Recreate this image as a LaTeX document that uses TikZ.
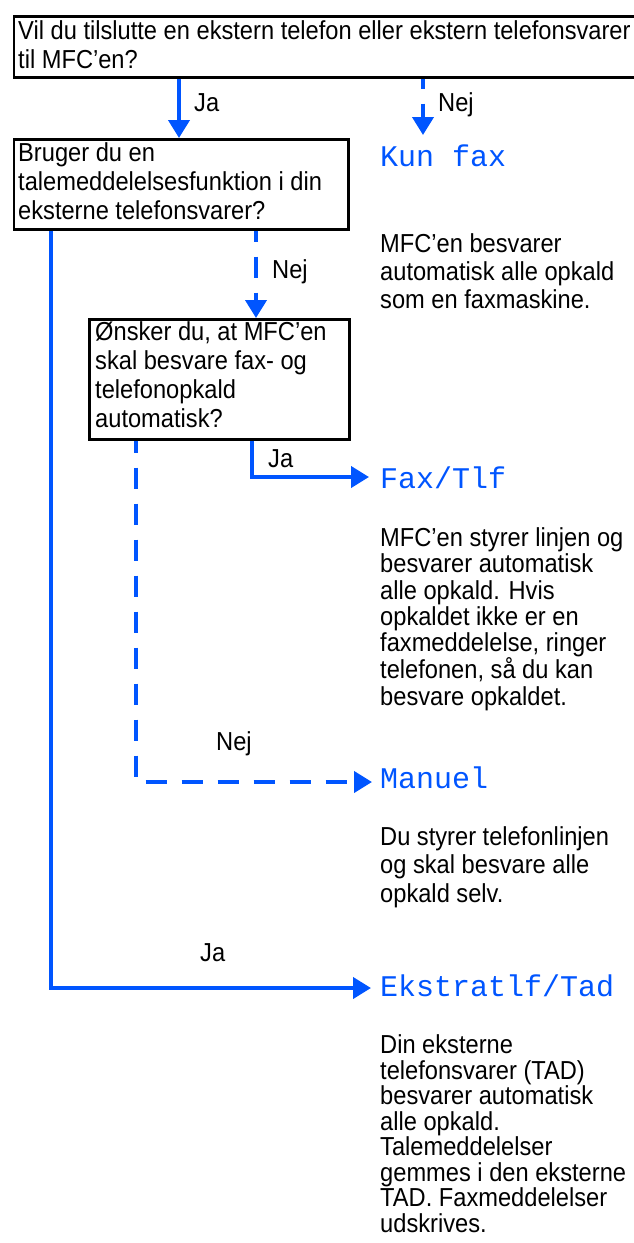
\documentclass[tikz,border=0pt]{standalone}
\usepackage{fontspec}
\setmainfont[FakeStretch=0.91]{Liberation Sans}
\newfontfamily\monofont{Liberation Mono}
\usetikzlibrary{arrows.meta}
\definecolor{mfcblue}{RGB}{0,85,255}
\begin{document}
\begin{tikzpicture}[x=1pt,y=-1pt,
  txt/.style={font=\fontsize{26}{#1}\selectfont, inner sep=0pt, anchor=base west, align=left},
  txt/.default=29,
  mono/.style={font=\monofont\fontsize{30}{30}\selectfont, text=mfcblue, inner sep=0pt, anchor=base west},
  qbox/.style={draw=black, line width=2.5pt, inner sep=0pt, anchor=north west},
  flow/.style={draw=mfcblue, line width=4pt, -{Triangle[length=18pt,width=21pt]}},
  dashline/.style={dash pattern=on 21pt off 15pt}]
\useasboundingbox (0,0) rectangle (633,1243);
\fill[white] (0,0) rectangle (633,1243);
% boxes
\node[qbox, minimum width=628pt, minimum height=61pt] (q1) at (12.5,15) {};
\node[qbox, minimum width=334.5pt, minimum height=90pt] (q2) at (12.5,138) {};
\node[qbox, minimum width=260pt, minimum height=120pt] (q3) at (88,318) {};
% columns and tips
\coordinate (cJa) at (179,0);
\coordinate (cNej) at (423,0);
\coordinate (cL) at (50.5,0);
\coordinate (cN2) at (256,0);
\coordinate (cJ3) at (251.5,0);
\coordinate (cN3) at (136,0);
\coordinate (tKun) at (423,135);
\coordinate (tFax) at (369,477);
\coordinate (tMan) at (372,782);
\coordinate (tEks) at (371,988);
% connectors
\draw[flow] (q1.south -| cJa) -- (q2.north -| cJa);
\draw[flow, dashline, dash phase=11pt] (q1.south -| cNej) -- (tKun);
\draw[flow, dashline, dash phase=10pt] (q2.south -| cN2) -- (q3.north -| cN2);
\draw[flow] (q3.south -| cJ3) |- (tFax);
\draw[flow, dashline, dash phase=9pt] (q3.south -| cN3) |- (tMan);
\draw[flow] (q2.south -| cL) |- (tEks);
% texts (multi-line nodes: base = baseline of last line)
\node[txt] (t1) at (18,68) {Vil du tilslutte en ekstern telefon eller ekstern telefonsvarer\\til MFC’en?};
\node[txt] (lJa1) at (194,111) {Ja};
\node[txt] (lNej1) at (438,111) {Nej};
\node[txt] (t2) at (18,219) {Bruger du en\\talemeddelelsesfunktion i din\\eksterne telefonsvarer?};
\node[mono] (kun) at (380,166) {Kun fax};
\node[txt=28] (d1) at (380,308) {MFC’en besvarer\\automatisk alle opkald\\som en faxmaskine.};
\node[txt] (lNej2) at (272,278) {Nej};
\node[txt=29] (t3) at (95,427) {Ønsker du, at MFC’en\\skal besvare fax- og\\telefonopkald\\automatisk?};
\node[txt] (lJa3) at (268,467) {Ja};
\node[mono] (fax) at (380,488) {Fax/Tlf};
\node[txt=26.2] (d2) at (380,705) {MFC’en styrer linjen og\\besvarer automatisk\\alle opkald. Hvis\\opkaldet ikke er en\\faxmeddelelse, ringer\\telefonen, så du kan\\besvare opkaldet.};
\node[txt] (lNej3) at (216,750) {Nej};
\node[mono] (man) at (380,788) {Manuel};
\node[txt=28.5] (d3) at (380,902) {Du styrer telefonlinjen\\og skal besvare alle\\opkald selv.};
\node[txt] (lJa4) at (200,961) {Ja};
\node[mono] (eks) at (380,996) {Ekstratlf/Tad};
\node[txt=25.5] (d4) at (380,1232) {Din eksterne\\telefonsvarer (TAD)\\besvarer automatisk\\alle opkald.\\Talemeddelelser\\gemmes i den eksterne\\TAD. Faxmeddelelser\\udskrives.};
\end{tikzpicture}
\end{document}
